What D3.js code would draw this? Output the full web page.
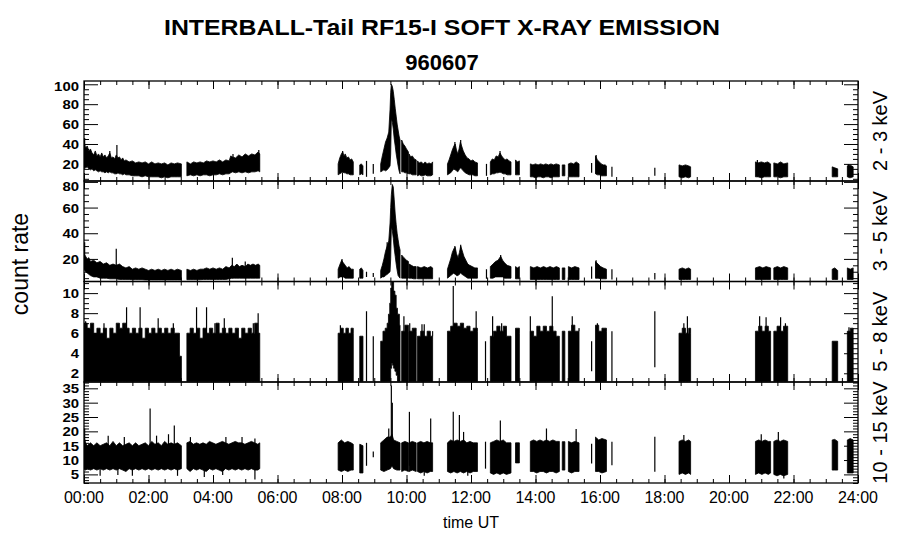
<!DOCTYPE html>
<html>
<head>
<meta charset="utf-8">
<script src="https://cdn.jsdelivr.net/npm/d3@7"></script>
<style>
body { margin: 0; background: #fff; }
text { font-family: "Liberation Sans", Arial, sans-serif; fill: #000; }
</style>
</head>
<body>
<div id="chart"></div>
<script>
// count-rate envelopes: [hour, low, high], null = data gap
var rate23 = [
  [0.00,18,42],[0.05,16,36],[0.10,17,38],[0.15,15,33],[0.20,14,35],[0.25,15,31],[0.30,13,29],[0.35,14,33],[0.40,13,28],[0.45,12,30],
  [0.50,13,27],[0.55,12,31],[0.60,12,27],[0.65,11,29],[0.70,12,26],[0.75,11,28],[0.80,12,31],[0.85,11,26],[0.90,11,27],[0.95,10,25],
  [1.00,10,29],[1.05,11,26],[1.10,10,27],[1.15,10,24],[1.20,9,26],[1.25,10,23],[1.30,9,24],[1.40,9,22],[1.50,8,23],[1.60,8,21],
  [1.70,8,22],[1.80,7,21],[1.90,8,22],[2.00,7,20],[2.10,7,22],[2.20,7,20],[2.30,7,21],[2.40,6,20],[2.50,7,21],[2.60,6,19],
  [2.70,7,21],[2.80,7,20],[2.90,7,21],[3.02,7,20], null,
  [3.19,8,22],[3.30,9,20],[3.40,8,22],[3.50,9,21],[3.60,8,22],[3.70,9,21],[3.80,9,23],[3.90,8,22],[4.00,9,23],[4.10,9,22],
  [4.20,10,24],[4.30,9,22],[4.40,10,24],[4.50,10,23],[4.55,11,28],[4.60,12,27],[4.70,11,26],[4.80,12,29],[4.90,11,27],[5.00,12,30],
  [5.10,11,28],[5.20,12,30],[5.30,12,29],[5.40,13,32],[5.45,12,30], null,
  [7.88,9,20],[7.93,10,26],[7.98,11,30],[8.02,12,32],[8.06,11,28],[8.10,11,30],[8.15,10,26],[8.20,10,27],[8.25,9,24],[8.30,9,25],[8.35,9,22], null,
  [8.55,9,19],[8.60,10,20],[8.65,9,18], null,
  [9.20,12,20],[9.25,13,28],[9.30,14,35],[9.35,13,42],[9.40,14,46],[9.45,16,52],[9.49,18,75],[9.51,30,92],[9.53,65,100],[9.56,62,98],
  [9.59,55,93],[9.62,45,85],[9.65,38,76],[9.68,30,68],[9.71,24,60],[9.74,18,54],[9.77,13,48],[9.80,10,44], null,
  [9.85,12,44],[9.90,12,40],[9.95,11,38],[10.00,11,35],[10.06,10,32], null,
  [10.08,10,30],[10.13,10,27],[10.18,9,28],[10.24,9,25],[10.30,9,24], null,
  [10.34,8,23],[10.40,9,21],[10.46,8,22],[10.52,8,20],[10.58,9,22],[10.64,8,20],[10.70,8,21],[10.76,8,20],[10.81,9,22], null,
  [11.27,9,20],[11.32,10,24],[11.37,11,29],[11.42,13,34],[11.47,15,38],[11.51,14,40],[11.55,13,34],[11.59,12,30],[11.63,14,35],[11.67,16,42],
  [11.71,15,38],[11.76,13,33],[11.82,11,29],[11.88,10,26],[11.94,9,25],[12.00,9,23],[12.06,9,24],[12.12,8,22],[12.20,8,21], null,
  [12.60,9,22],[12.66,10,25],[12.72,10,24],[12.78,11,28],[12.84,11,27],[12.90,12,31],[12.95,11,28],[13.00,10,26],[13.06,10,24],[13.12,9,25],[13.18,9,23],[13.24,9,22], null,
  [13.38,9,24],[13.44,9,22],[13.50,9,23], null,
  [13.84,7,20],[13.92,7,19],[14.00,6,20],[14.08,7,19],[14.16,7,20],[14.24,6,19],[14.32,7,20],[14.40,7,19],[14.48,6,20],[14.56,7,19],[14.64,7,20],[14.74,7,19], null,
  [14.83,8,19],[14.91,8,19], null,
  [15.02,7,20],[15.10,7,21],[15.18,7,20],[15.26,7,22],[15.35,7,20], null,
  [15.86,10,28],[15.92,9,24],[15.98,9,22],[16.04,8,20],[16.10,8,19],[16.16,8,19],[16.20,8,18], null,
  [18.45,7,19],[18.55,6,18],[18.65,7,19],[18.75,6,18],[18.81,7,17], null,
  [20.82,7,22],[20.90,7,21],[21.00,6,22],[21.10,7,21],[21.20,7,22],[21.29,7,20], null,
  [21.39,7,21],[21.50,7,20],[21.60,6,22],[21.70,7,20],[21.82,7,21], null,
  [23.20,7,17],[23.28,7,16],[23.37,7,15], null,
  [23.67,7,18],[23.75,6,19],[23.85,7,17]
];
var spikes23 = [
  [0.02,15,46],[0.80,12,33],[1.02,10,39],[4.62,12,30],[5.42,13,34],[8.02,11,33],[11.50,14,42],[11.68,16,44],[12.90,11,33],
  [15.88,10,29],[20.88,7,24],[23.70,7,20],[8.76,7,23],[8.97,10,20],[12.48,8,20],[15.74,11,21],[16.37,7,17],[17.70,8,16]
];

var rate35 = [
  [0.00,12,24],[0.05,10,22],[0.10,9,20],[0.15,8,21],[0.20,7,18],[0.30,6,19],[0.40,6,17],[0.50,5,18],[0.60,5,16],[0.70,5,17],
  [0.80,4.5,15],[0.90,4.5,16],[1.00,4.5,15],[1.10,4,16],[1.20,4,14],[1.30,4,13],[1.40,4,14],[1.50,3.8,12],[1.60,3.8,13],[1.70,3.8,12],
  [1.80,3.8,13],[1.90,3.6,12],[2.00,3.6,11],[2.10,3.6,12],[2.20,3.6,11],[2.30,3.6,12],[2.40,3.6,11],[2.50,3.6,12],[2.60,3.6,11],[2.70,3.6,12],
  [2.80,3.6,11],[2.90,3.6,12],[3.02,3.6,11], null,
  [3.19,3.8,12],[3.30,3.8,11],[3.40,3.8,12],[3.50,3.8,11],[3.60,3.8,12],[3.70,4,12],[3.80,4,13],[3.90,4,12],[4.00,4,13],[4.10,4,12],
  [4.20,4,13],[4.30,4,12],[4.40,4,14],[4.50,4.5,13],[4.58,5,15],[4.66,5,14],[4.74,5,16],[4.82,5,14],[4.90,5,15],[5.00,5,14],
  [5.08,5,16],[5.16,5,15],[5.24,5,16],[5.32,5,15],[5.40,5,16],[5.45,5,15], null,
  [7.88,5,12],[7.94,6,16],[7.99,6,19],[8.04,6,17],[8.10,5,15],[8.16,5,13],[8.22,5,14],[8.28,5,12],[8.35,5,12], null,
  [8.55,5,12],[8.60,5,13],[8.65,5,11], null,
  [9.20,5,11],[9.25,6,15],[9.30,6,20],[9.35,7,26],[9.40,8,30],[9.45,9,34],[9.49,10,48],[9.51,20,60],[9.53,45,70],[9.56,42,78],
  [9.59,36,76],[9.62,28,66],[9.65,22,55],[9.68,16,47],[9.71,11,40],[9.74,7,35],[9.77,6,30],[9.80,5,27], null,
  [9.85,5,23],[9.92,5,21],[10.00,5,19],[10.06,5,18], null,
  [10.08,5,16],[10.15,5,15],[10.22,4.5,14],[10.30,4.5,14], null,
  [10.34,4.5,14],[10.45,4.5,13],[10.55,4.5,14],[10.65,4.5,13],[10.75,4.5,14],[10.81,4.5,13], null,
  [11.27,5,12],[11.32,6,16],[11.37,7,20],[11.42,8,25],[11.47,9,28],[11.51,8,29],[11.55,7,24],[11.60,7,21],[11.64,8,25],[11.68,9,30],
  [11.72,8,27],[11.78,7,22],[11.84,6,19],[11.90,5,16],[11.96,5,15],[12.04,5,14],[12.12,5,13],[12.20,5,13], null,
  [12.60,5,14],[12.68,5,16],[12.76,6,18],[12.84,6,19],[12.92,6,22],[12.98,6,19],[13.04,5,17],[13.12,5,15],[13.24,5,14], null,
  [13.38,4.5,14],[13.44,4.5,13],[13.50,4.5,14], null,
  [13.84,4,14],[13.95,4,13],[14.05,4,14],[14.15,4,13],[14.25,4,14],[14.35,4,13],[14.45,4,14],[14.55,4,13],[14.65,4,14],[14.74,4,13], null,
  [14.83,4,13],[14.91,4,13], null,
  [15.02,4,14],[15.12,4,13],[15.22,4,14],[15.35,4,13], null,
  [15.86,5,18],[15.94,5,16],[16.02,4.5,14],[16.10,4.5,13],[16.20,4.5,12], null,
  [18.45,4,12],[18.55,4,13],[18.65,4,12],[18.75,4,13],[18.81,4,12], null,
  [20.82,4,13],[20.95,4,14],[21.05,4,13],[21.15,4,14],[21.29,4,13], null,
  [21.39,4,13],[21.50,4,14],[21.60,4,13],[21.70,4,14],[21.82,4,13], null,
  [23.20,4,12],[23.28,4,13],[23.37,4,11], null,
  [23.67,4,13],[23.76,4,12],[23.85,4,13]
];
var spikes35 = [
  [0.02,12,33],[1.00,5,28],[4.60,5,21],[5.00,5,18],[8.00,6,20],[9.40,8,33],[11.50,8,30],[11.68,9,31],[12.92,6,23],
  [15.88,5,19],[8.76,6,10],[8.97,6,9],[12.48,4.5,12],[15.74,4.5,14],[16.37,4,12],[17.70,4,9]
];

var rate58 = [
  [0.00,1.2,7.0],[0.10,1.2,6.5],[0.20,1.2,7.0],[0.30,1.2,6.0],[0.40,1.2,6.5],[0.50,1.2,6.0],[0.60,1.2,6.5],[0.70,1.2,5.5],[0.80,1.2,6.5],[0.90,1.2,6.0],
  [1.00,1.2,7.0],[1.10,1.2,6.5],[1.20,1.2,7.0],[1.30,1.2,6.5],[1.40,1.2,6.0],[1.50,1.2,6.5],[1.60,1.2,6.0],[1.70,1.2,6.5],[1.80,1.2,5.5],[1.90,1.2,6.5],
  [2.00,1.2,6.0],[2.10,1.2,6.5],[2.20,1.2,6.0],[2.30,1.2,6.5],[2.40,1.2,6.0],[2.50,1.2,6.5],[2.60,1.2,6.0],[2.70,1.2,6.5],[2.80,1.2,6.0],[2.96,1.2,3.7],[3.02,1.2,3.7], null,
  [3.19,1.2,6.0],[3.29,1.2,6.5],[3.39,1.2,6.0],[3.49,1.2,6.5],[3.59,1.2,5.5],[3.69,1.2,6.5],[3.79,1.2,6.0],[3.89,1.2,6.5],[3.99,1.2,6.0],[4.09,1.2,7.0],
  [4.19,1.2,6.0],[4.29,1.2,6.5],[4.39,1.2,6.0],[4.49,1.2,6.5],[4.59,1.2,6.0],[4.69,1.2,6.5],[4.79,1.2,5.5],[4.89,1.2,6.5],[4.99,1.2,6.0],[5.09,1.2,6.5],
  [5.19,1.2,6.0],[5.29,1.2,7.0],[5.39,1.2,6.0],[5.45,1.2,6.0], null,
  [7.88,1.2,6.0],[7.96,1.2,6.5],[8.04,1.2,6.0],[8.12,1.2,6.5],[8.20,1.2,6.0],[8.28,1.2,6.5],[8.35,1.2,6.0], null,
  [8.55,1.2,5.7],[8.65,1.2,5.7], null,
  [9.20,1.2,5.2],[9.27,1.2,6.2],[9.34,1.2,6.5],[9.40,1.2,7.0],[9.44,1.2,7.9],[9.48,1.2,9.0],[9.51,2.5,10.5],[9.54,3.0,11.1],[9.57,2.8,11.1],[9.60,2.5,10.2],
  [9.64,2.2,9.8],[9.68,1.8,8.5],[9.72,1.2,7.9],[9.78,1.2,6.8],[9.80,1.2,6.5], null,
  [9.85,1.2,6.2],[9.95,1.2,6.8],[10.06,1.2,6.2], null,
  [10.08,1.2,6.2],[10.18,1.2,6.5],[10.30,1.2,6.2], null,
  [10.34,1.2,5.7],[10.44,1.2,6.2],[10.54,1.2,5.7],[10.64,1.2,6.2],[10.74,1.2,5.7],[10.81,1.2,6.2], null,
  [11.27,1.2,6.2],[11.37,1.2,6.7],[11.47,1.2,7.0],[11.57,1.2,6.7],[11.67,1.2,7.0],[11.77,1.2,6.5],[11.87,1.2,6.7],[11.97,1.2,6.2],[12.07,1.2,6.5],[12.20,1.2,6.2], null,
  [12.60,1.2,5.7],[12.70,1.2,6.2],[12.80,1.2,6.7],[12.90,1.2,6.2],[13.00,1.2,6.7],[13.10,1.2,5.7],[13.24,1.2,5.7], null,
  [13.38,1.2,6.5],[13.50,1.2,6.0], null,
  [13.84,1.2,6.2],[13.94,1.2,5.7],[14.04,1.2,6.7],[14.14,1.2,6.2],[14.24,1.2,6.7],[14.34,1.2,6.2],[14.44,1.2,6.7],[14.54,1.2,6.2],[14.64,1.2,5.7],[14.74,1.2,5.7], null,
  [14.83,1.2,6.2],[14.91,1.2,6.2], null,
  [15.02,1.2,6.2],[15.12,1.2,6.8],[15.22,1.2,6.2],[15.35,1.2,6.5], null,
  [15.86,1.2,6.8],[15.96,1.2,6.2],[16.06,1.2,6.5],[16.20,1.2,6.2], null,
  [18.45,1.2,6.0],[18.55,1.2,6.5],[18.65,1.2,6.0],[18.75,1.2,6.5],[18.81,1.2,6.0], null,
  [20.82,1.2,6.2],[20.92,1.2,6.7],[21.02,1.2,6.2],[21.12,1.2,6.7],[21.22,1.2,6.2],[21.29,1.2,6.2], null,
  [21.39,1.2,6.2],[21.49,1.2,6.7],[21.59,1.2,6.2],[21.69,1.2,6.7],[21.82,1.2,6.2], null,
  [23.20,1.2,5.2],[23.37,1.2,5.2], null,
  [23.67,1.2,6.2],[23.76,1.2,6.5],[23.85,1.2,6.2]
];
var spikes58 = [
  [0.05,1.2,7.2],[0.62,1.2,7.0],[1.32,1.2,8.6],[1.74,1.2,8.6],[2.30,1.2,7.5],[2.77,1.2,7.0],[3.49,1.2,8.6],[3.80,1.2,8.6],[4.06,1.2,7.0],
  [4.35,1.2,7.5],[5.25,1.2,7.0],[5.40,1.2,8.0],[7.95,1.2,6.8],[8.76,1.2,8.2],[8.97,1.2,5.7],[9.92,1.2,7.7],[10.10,1.2,7.0],[10.48,1.2,6.9],
  [10.55,1.2,6.9],[11.45,1.2,10.7],[11.55,1.2,6.9],[12.16,1.2,8.2],[12.45,1.2,5.2],[12.67,1.2,7.7],[12.95,1.2,7.0],[13.84,1.2,7.7],
  [14.52,1.2,9.7],[15.14,1.2,7.7],[15.74,2.2,5.2],[15.92,1.2,7.0],[16.37,1.2,6.2],[17.70,2.6,8.2],[18.60,1.2,7.0],[18.71,1.2,7.7],
  [20.95,1.2,7.7],[21.15,1.2,7.6],[21.60,1.2,7.6],[21.75,1.2,7.0],[23.72,1.2,6.6]
];

var rate1015 = [
  [0.00,7,18],[0.05,6.5,16],[0.10,7,15],[0.20,6.5,16],[0.30,7,15],[0.40,6.5,16],[0.50,7,15],[0.60,6.5,15.5],[0.70,7,16],[0.80,6.5,15],
  [0.90,7,16.5],[1.00,6.5,15],[1.10,7,16],[1.20,6.5,15],[1.30,6,15.5],[1.40,7,16],[1.50,6.5,15],[1.60,7,16],[1.70,6.5,15],[1.80,7,15.5],
  [1.90,6.5,16],[2.00,7,15],[2.10,6.5,16.5],[2.20,7,15.5],[2.30,6.5,16],[2.40,7,15],[2.50,6.5,16.5],[2.60,7,15.5],[2.70,6.5,16],[2.80,7,15.5],
  [2.90,6.5,16],[3.02,7,15], null,
  [3.19,7,16],[3.29,6,16.5],[3.39,7,15.5],[3.49,6.5,16],[3.59,7,15.5],[3.69,6.5,16],[3.79,6,15.5],[3.89,7,16.5],[3.99,6.5,16],[4.09,7,15.5],
  [4.19,6.5,16],[4.29,6,16.5],[4.39,7,16],[4.49,6.5,15.5],[4.59,7,16],[4.69,6.5,16.5],[4.79,7,16],[4.89,6.5,16],[4.99,7,15.5],[5.09,6.5,16],
  [5.19,7,16.5],[5.29,6.5,16],[5.39,6.5,15.5],[5.45,7,16], null,
  [7.88,6.5,16],[7.98,6,17],[8.08,6.5,16],[8.18,6,16.5],[8.28,6.5,16],[8.35,6.5,15.5], null,
  [8.55,5.5,15.5],[8.65,5.5,15], null,
  [9.20,6.5,16],[9.30,6,17],[9.40,6.5,18],[9.50,7,18],[9.55,8,19],[9.60,7,17],[9.70,6.5,16.5],[9.80,6.5,16], null,
  [9.85,6,16],[9.95,6.5,16.5],[10.06,6,16], null,
  [10.08,6,16],[10.18,6.5,16.5],[10.30,6,16], null,
  [10.34,6,16],[10.44,5.5,16.5],[10.54,6,16],[10.64,5.5,16.5],[10.74,6,16],[10.81,6,16], null,
  [11.27,6,16],[11.37,5.5,17],[11.47,6,16.5],[11.57,5.5,17],[11.67,6,16.5],[11.77,5.5,17],[11.87,6,16],[11.97,5.5,16.5],[12.07,6,16],[12.20,6,16], null,
  [12.60,5.5,16],[12.70,5,16.5],[12.80,5.5,17],[12.90,5,16.5],[13.00,5.5,17],[13.10,5,16],[13.24,5.5,16], null,
  [13.38,9,16],[13.50,9,16], null,
  [13.84,6,16.5],[13.94,6,17],[14.04,5.5,16.5],[14.14,6,17],[14.24,6,16.5],[14.34,5.5,17],[14.44,6,16.5],[14.54,6,17],[14.64,5.5,16.5],[14.74,6,16.5], null,
  [14.83,6.5,16.4],[14.91,6.5,16.4], null,
  [15.02,6,16.5],[15.12,5.5,16],[15.22,6,16.5],[15.35,6,16], null,
  [15.86,6,18],[15.96,6,17],[16.06,5.5,17.5],[16.20,6,17], null,
  [18.45,5,16.5],[18.55,5.5,17],[18.65,5,16.5],[18.75,5.5,17],[18.81,5,16.5], null,
  [20.82,5,16.5],[20.92,5.5,17],[21.02,5,16.5],[21.12,5.5,17],[21.22,5,16.5],[21.29,5.5,16.5], null,
  [21.39,5,16.5],[21.49,4.5,17],[21.59,5,16.5],[21.69,4.5,17],[21.82,5,16.5], null,
  [23.20,6.5,17],[23.28,6.5,17.2],[23.37,6.5,16.5], null,
  [23.67,5.5,17],[23.76,5.5,17.5],[23.85,5.5,17]
];
var spikes1015 = [
  [0.02,7,21],[0.75,7,18.5],[1.25,7,18],[2.05,7,28],[2.25,7,18.5],[2.62,7,19],[2.80,7,22],[3.30,7,18],[4.40,7,18],[4.90,7,18],[5.30,7,17.5],
  [0.50,4.5,8],[1.05,4.8,8],[1.50,4.5,8],[2.90,4.5,8],[3.73,4.1,8],[4.30,4.8,8],[5.30,3.2,8],
  [8.76,8,16],[8.97,11,13],[9.53,10,36],[9.56,12,30],[9.45,8,21],[10.09,8,26.8],[10.75,8,24.5],[10.55,4.5,8],[11.45,8,26.8],[11.64,8,25.7],
  [11.77,8,19.8],[11.90,4.5,8],[12.45,7,16.4],[12.91,8,23.8],[14.34,8,21],[15.26,8,20.8],[15.74,8.8,15.7],[16.37,8.2,16.4],
  [17.70,5.9,18.1],[18.60,8,18.7],[21.00,8,19],[21.53,8,19.8],[21.70,3.6,8]
];

// axis ticks and labels
var hourTicks = [0,2,4,6,8,10,12,14,16,18,20,22,24];
var hourLabels = ["00:00","02:00","04:00","06:00","08:00","10:00","12:00","14:00","16:00","18:00","20:00","22:00","24:00"];
var bandNames = ["2 - 3 keV","3 - 5 keV","5 - 8 keV","10 - 15 keV"];

var panels = [
  {name: bandNames[0], top: 81,    bottom: 181,   domain: [2.8, 103.3], major: [20,40,60,80,100], minor: 5,   env: rate23,   spikes: spikes23,   curve: d3.curveLinear},
  {name: bandNames[1], top: 181,   bottom: 281.5, domain: [2.4, 80.7],  major: [20,40,60,80],     minor: 5,   env: rate35,   spikes: spikes35,   curve: d3.curveLinear},
  {name: bandNames[2], top: 281.5, bottom: 382,   domain: [1.13, 11.16], major: [2,4,6,8,10],     minor: 0.5, env: rate58,   spikes: spikes58,   curve: d3.curveStepAfter},
  {name: bandNames[3], top: 382,   bottom: 483,   domain: [2, 37.2],    major: [5,10,15,20,25,30,35], minor: 1, env: rate1015, spikes: spikes1015, curve: d3.curveLinear}
];

var W = 900, H = 548;
var left = 84, right = 858;

var svg = d3.select("#chart").append("svg")
    .attr("width", W)
    .attr("height", H);

var x = d3.scaleLinear().domain([0, 24]).range([left, right]);
var minorHours = d3.range(0, 24.01, 0.5);

svg.append("defs");

panels.forEach(function(p, i) {
    var y = d3.scaleLinear().domain(p.domain).range([p.bottom, p.top]);

    svg.select("defs").append("clipPath")
        .attr("id", "clip" + i)
        .append("rect")
        .attr("x", left).attr("y", p.top)
        .attr("width", right - left).attr("height", p.bottom - p.top);

    var g = svg.append("g").attr("clip-path", "url(#clip" + i + ")");

    var area = d3.area()
        .defined(function(d) { return d !== null; })
        .curve(p.curve)
        .x(function(d) { return x(d[0]); })
        .y0(function(d) { return y(d[1]); })
        .y1(function(d) { return y(d[2]); });

    g.append("path")
        .attr("d", area(p.env))
        .attr("fill", "#000")
        .attr("stroke", "#000")
        .attr("stroke-width", 0.8);

    g.selectAll(".spike")
        .data(p.spikes)
        .enter().append("line")
        .attr("x1", function(d) { return x(d[0]); })
        .attr("x2", function(d) { return x(d[0]); })
        .attr("y1", function(d) { return y(d[1]); })
        .attr("y2", function(d) { return y(d[2]); })
        .attr("stroke", "#000")
        .attr("stroke-width", 1.2);

    // y minor ticks
    var yMinor = d3.range(Math.ceil(p.domain[0] / p.minor) * p.minor, p.domain[1], p.minor)
        .filter(function(v) { return p.major.indexOf(+v.toFixed(3)) < 0; });

    svg.append("g")
        .attr("transform", "translate(" + left + ",0)")
        .call(d3.axisLeft(y).tickValues(yMinor).tickSize(-5).tickSizeOuter(0).tickFormat(""))
        .call(function(a) { a.select(".domain").remove(); });
    svg.append("g")
        .attr("transform", "translate(" + right + ",0)")
        .call(d3.axisRight(y).tickValues(yMinor).tickSize(-5).tickSizeOuter(0).tickFormat(""))
        .call(function(a) { a.select(".domain").remove(); });

    // y major ticks + labels (wide, short digits like the original)
    var yl = svg.append("g")
        .attr("transform", "translate(" + left + ",0)")
        .call(d3.axisLeft(y).tickValues(p.major).tickSize(-14).tickSizeOuter(0).tickPadding(5).tickFormat(d3.format("d")));
    yl.select(".domain").remove();
    yl.selectAll("text")
        .attr("font-family", "Liberation Sans, Arial, sans-serif")
        .attr("font-weight", "bold")
        .attr("font-size", 12.5)
        .attr("textLength", function(d) { return String(d).length * 8.3; })
        .attr("lengthAdjust", "spacingAndGlyphs")
        .attr("dy", "0.36em")
        .attr("y", function(d) {
            var yy = y(d);
            if (yy < p.top + 5) return p.top + 5 - yy;
            return 0;
        });
    svg.append("g")
        .attr("transform", "translate(" + right + ",0)")
        .call(d3.axisRight(y).tickValues(p.major).tickSize(-14).tickSizeOuter(0).tickFormat(""))
        .call(function(a) { a.select(".domain").remove(); });

    // x ticks top and bottom of each panel
    [[p.top, d3.axisTop], [p.bottom, d3.axisBottom]].forEach(function(s) {
        svg.append("g")
            .attr("transform", "translate(0," + s[0] + ")")
            .call(s[1](x).tickValues(minorHours).tickSize(-4).tickSizeOuter(0).tickFormat(""))
            .call(function(a) { a.select(".domain").remove(); });
        svg.append("g")
            .attr("transform", "translate(0," + s[0] + ")")
            .call(s[1](x).tickValues(hourTicks).tickSize(-8).tickSizeOuter(0).tickFormat(""))
            .call(function(a) { a.select(".domain").remove(); });
    });

    // frame
    svg.append("rect")
        .attr("x", left).attr("y", p.top)
        .attr("width", right - left).attr("height", p.bottom - p.top)
        .attr("fill", "none")
        .attr("stroke", "#000")
        .attr("stroke-width", 1.3);

    // channel label on the right
    svg.append("text")
        .attr("transform", "translate(887," + ((p.top + p.bottom) / 2) + ") rotate(-90)")
        .attr("text-anchor", "middle")
        .attr("font-size", 20)
        .text(p.name);
});

// hour labels under the last panel
svg.append("g")
    .selectAll("text")
    .data(hourTicks)
    .enter().append("text")
    .attr("x", function(d) { return x(d); })
    .attr("y", 503)
    .attr("text-anchor", "middle")
    .attr("font-size", 16)
    .text(function(d, i) { return hourLabels[i]; });

svg.append("text")
    .attr("x", (left + right) / 2)
    .attr("y", 528)
    .attr("text-anchor", "middle")
    .attr("font-size", 16)
    .text("time UT");

svg.append("text")
    .attr("transform", "translate(28,264) rotate(-90)")
    .attr("text-anchor", "middle")
    .attr("font-size", 23)
    .text("count rate");

svg.append("text")
    .attr("x", 442)
    .attr("y", 35)
    .attr("text-anchor", "middle")
    .attr("font-size", 22)
    .attr("font-weight", "bold")
    .attr("textLength", 556)
    .attr("lengthAdjust", "spacingAndGlyphs")
    .text("INTERBALL-Tail RF15-I SOFT X-RAY EMISSION");

svg.append("text")
    .attr("x", 442)
    .attr("y", 70)
    .attr("text-anchor", "middle")
    .attr("font-size", 22)
    .attr("font-weight", "bold")
    .text("960607");
</script>
</body>
</html>
